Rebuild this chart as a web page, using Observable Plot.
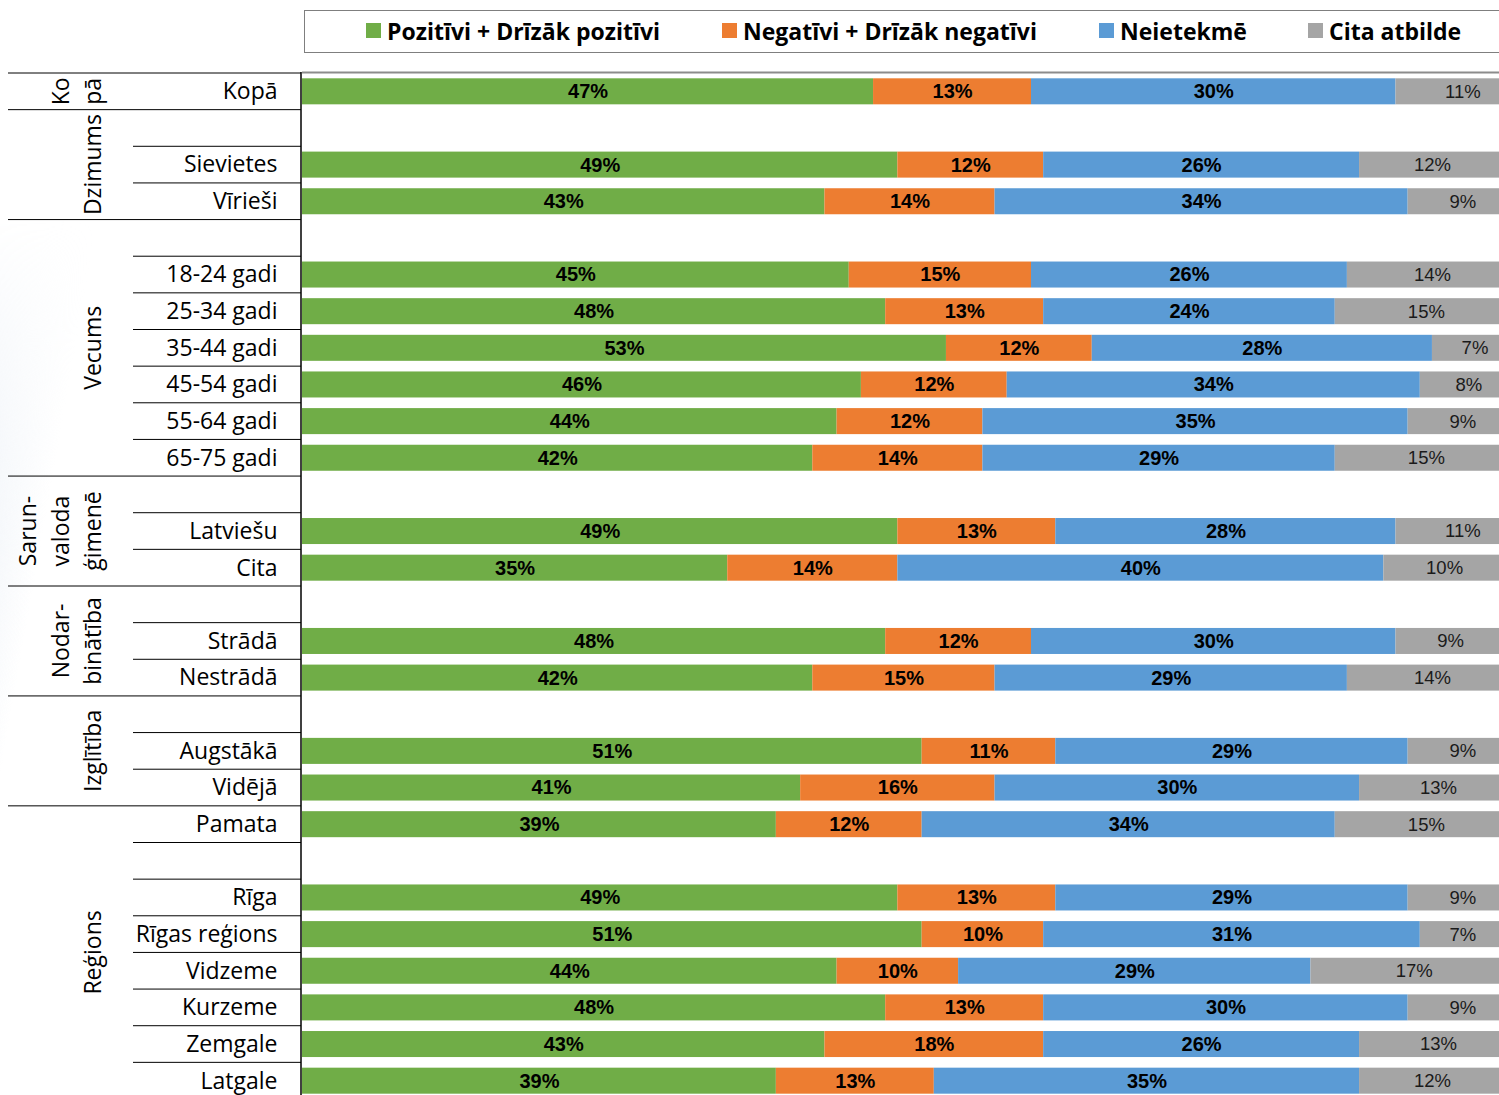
<!DOCTYPE html>
<html>
<head>
<meta charset="utf-8">
<script src="https://cdn.jsdelivr.net/npm/d3@7"></script>
<script src="https://cdn.jsdelivr.net/npm/@observablehq/plot@0.6"></script>
<style>
  html, body { margin: 0; padding: 0; background: #fff; }
  #wrap { position: relative; width: 1499px; height: 1095px; overflow: hidden; }
  #bg { position: absolute; left: 0; top: 0; width: 170px; height: 1095px;
        background: linear-gradient(100deg, rgba(210,222,236,1) 0px, rgba(224,232,242,0.95) 40px, rgba(236,241,247,0.75) 85px, rgba(255,255,255,0) 135px);
        -webkit-mask-image: linear-gradient(to bottom, transparent 220px, rgba(0,0,0,0.75) 550px, #000 950px);
        mask-image: linear-gradient(to bottom, transparent 220px, rgba(0,0,0,0.75) 550px, #000 950px); }
  #legend { position: relative; height: 63px; }
  #legend .box { position: absolute; left: 304px; top: 10px; width: 1300px; height: 41px; border: 1.5px solid #7f7f7f; }
  #legend .item { position: absolute; top: 9px; height: 43px; display: flex; align-items: center;
        font-family: "Open Sans", sans-serif; font-weight: bold; font-size: 23px; color: #000; white-space: nowrap; }
  #legend .sw { width: 15px; height: 15px; margin-right: 6px; flex: none; }
  #chart { position: relative; }
  #chart svg { background: transparent; display: block; }
</style>
</head>
<body>
<div id="wrap">
  <div id="bg"></div>
  <div id="legend"><div class="box"></div></div>
  <div id="chart"></div>
</div>
<script>
// ---- data ----
const rowLabels = ["Kopā", "", "Sievietes", "Vīrieši", "", "18-24 gadi", "25-34 gadi", "35-44 gadi", "45-54 gadi", "55-64 gadi", "65-75 gadi", "", "Latviešu", "Cita", "", "Strādā", "Nestrādā", "", "Augstākā", "Vidējā", "Pamata", "", "Rīga", "Rīgas reģions", "Vidzeme", "Kurzeme", "Zemgale", "Latgale"];
const seriesNames = ["Pozitīvi + Drīzāk pozitīvi", "Negatīvi + Drīzāk negatīvi", "Neietekmē", "Cita atbilde"];
const seriesColors = ["#70AD47", "#ED7D31", "#5B9BD5", "#A5A5A5"];
const positive = [47, null, 49, 43, null, 45, 48, 53, 46, 44, 42, null, 49, 35, null, 48, 42, null, 51, 41, 39, null, 49, 51, 44, 48, 43, 39];
const negative = [13, null, 12, 14, null, 15, 13, 12, 12, 12, 14, null, 13, 14, null, 12, 15, null, 11, 16, 12, null, 13, 10, 10, 13, 18, 13];
const neutral  = [30, null, 26, 34, null, 26, 24, 28, 34, 35, 29, null, 28, 40, null, 30, 29, null, 29, 30, 34, null, 29, 31, 29, 30, 26, 35];
const other    = [11, null, 12, 9, null, 14, 15, 7, 8, 9, 15, null, 11, 10, null, 9, 14, null, 9, 13, 15, null, 9, 7, 17, 9, 13, 12];
// group labels (lines) with first and last row index
const groupLabels = [["Ko", "pā"], ["Dzimums"], ["Vecums"], ["Sarun-", "valoda", "ģimenē"], ["Nodar-", "binātība"], ["Izglītība"], ["Reģions"]];
const groupStart = [0, 1, 4, 11, 14, 17, 20];
const groupEnd   = [0, 3, 10, 13, 16, 19, 27];

// ---- build tables ----
const seriesValues = [positive, negative, neutral, other];
const long = [];
rowLabels.forEach((lab, i) => {
  if (positive[i] == null) return;
  seriesNames.forEach((s, k) => long.push({row: i, series: s, value: seriesValues[k][i]}));
});
const labelRows = rowLabels.map((label, row) => ({row, label})).filter(d => d.label !== "");

// ---- legend (HTML, above the svg) ----
const legendX = [366, 722, 1099, 1308];
const legend = document.getElementById("legend");
seriesNames.forEach((s, k) => {
  const it = document.createElement("div");
  it.className = "item";
  it.style.left = legendX[k] + "px";
  const sw = document.createElement("span");
  sw.className = "sw";
  sw.style.background = seriesColors[k];
  it.appendChild(sw);
  it.appendChild(document.createTextNode(s));
  legend.appendChild(it);
});

// ---- left panel decorations (uses Plot's y scale) ----
const leftFont = "'Open Sans', sans-serif";
function leftPanel(index, scales, values, dims) {
  const y = scales.y;
  const step = y.step(), bw = y.bandwidth();
  const top = i => y(i) - (step - bw) / 2;
  const g = d3.create("svg:g");
  // top grey line over the bars
  g.append("line").attr("x1", dims.marginLeft).attr("x2", dims.width)
    .attr("y1", top(0) - 0.5).attr("y2", top(0) - 0.5)
    .attr("stroke", "#8c8c8c").attr("stroke-width", 2);
  // group separators
  groupStart.forEach(s => {
    g.append("line").attr("x1", 8).attr("x2", 301).attr("y1", top(s)).attr("y2", top(s))
      .attr("stroke", "#000").attr("stroke-width", 1);
  });
  // inner separators
  groupStart.forEach((s, k) => {
    for (let r = s + 1; r <= groupEnd[k]; r++) {
      g.append("line").attr("x1", 133).attr("x2", 301).attr("y1", top(r)).attr("y2", top(r))
        .attr("stroke", "#000").attr("stroke-width", 1);
    }
  });
  // vertical axis line
  g.append("line").attr("x1", 301).attr("x2", 301).attr("y1", top(0) - 1).attr("y2", dims.height + 10)
    .attr("stroke", "#000").attr("stroke-width", 1.5);
  // group labels (rotated)
  groupLabels.forEach((lines, k) => {
    const cy = (top(groupStart[k]) + top(groupEnd[k]) + step) / 2;
    const n = lines.length;
    lines.forEach((t, j) => {
      const cx = 93 - (n - 1 - j) * 32.5;
      g.append("text").attr("transform", `translate(${cx},${cy}) rotate(-90)`)
        .attr("text-anchor", "middle").attr("dy", "0.35em")
        .attr("font-family", leftFont).attr("font-size", 23).attr("fill", "#000")
        .text(t);
    });
  });
  return g.node();
}

// ---- chart ----
const pxPerPct = 12.15;
const chart = Plot.plot({
  width: 1499,
  height: 1036,
  marginTop: 10,
  marginBottom: 0,
  marginLeft: 302,
  marginRight: 0,
  style: {background: "transparent", overflow: "visible"},
  x: {domain: [0, (1499 - 302) / pxPerPct], axis: null},
  y: {domain: d3.range(rowLabels.length), axis: null, paddingInner: 0.29, paddingOuter: 0.145, round: false},
  color: {domain: seriesNames, range: seriesColors},
  marks: [
    Plot.barX(long, Plot.stackX({x: "value", y: "row", z: "series", fill: "series"})),
    Plot.text(long, Plot.stackX({
      x: "value", y: "row", z: "series",
      text: d => d.series !== "Cita atbilde" ? d.value + "%" : null,
      fill: "#000", fontWeight: "bold", fontSize: 20,
      fontFamily: "'Liberation Sans', Arial, sans-serif"
    })),
    Plot.text(long, Plot.stackX({
      x: "value", y: "row", z: "series",
      text: d => d.series === "Cita atbilde" ? d.value + "%" : null,
      fill: "#1a1a1a", fontSize: 18.5,
      fontFamily: "'Liberation Sans', Arial, sans-serif"
    })),
    Plot.text(labelRows, {
      y: "row", text: "label", frameAnchor: "left", dx: -25, textAnchor: "end",
      fontSize: 23, fontFamily: leftFont, fill: "#000"
    }),
    leftPanel
  ]
});
document.getElementById("chart").appendChild(chart);
</script>
</body>
</html>
